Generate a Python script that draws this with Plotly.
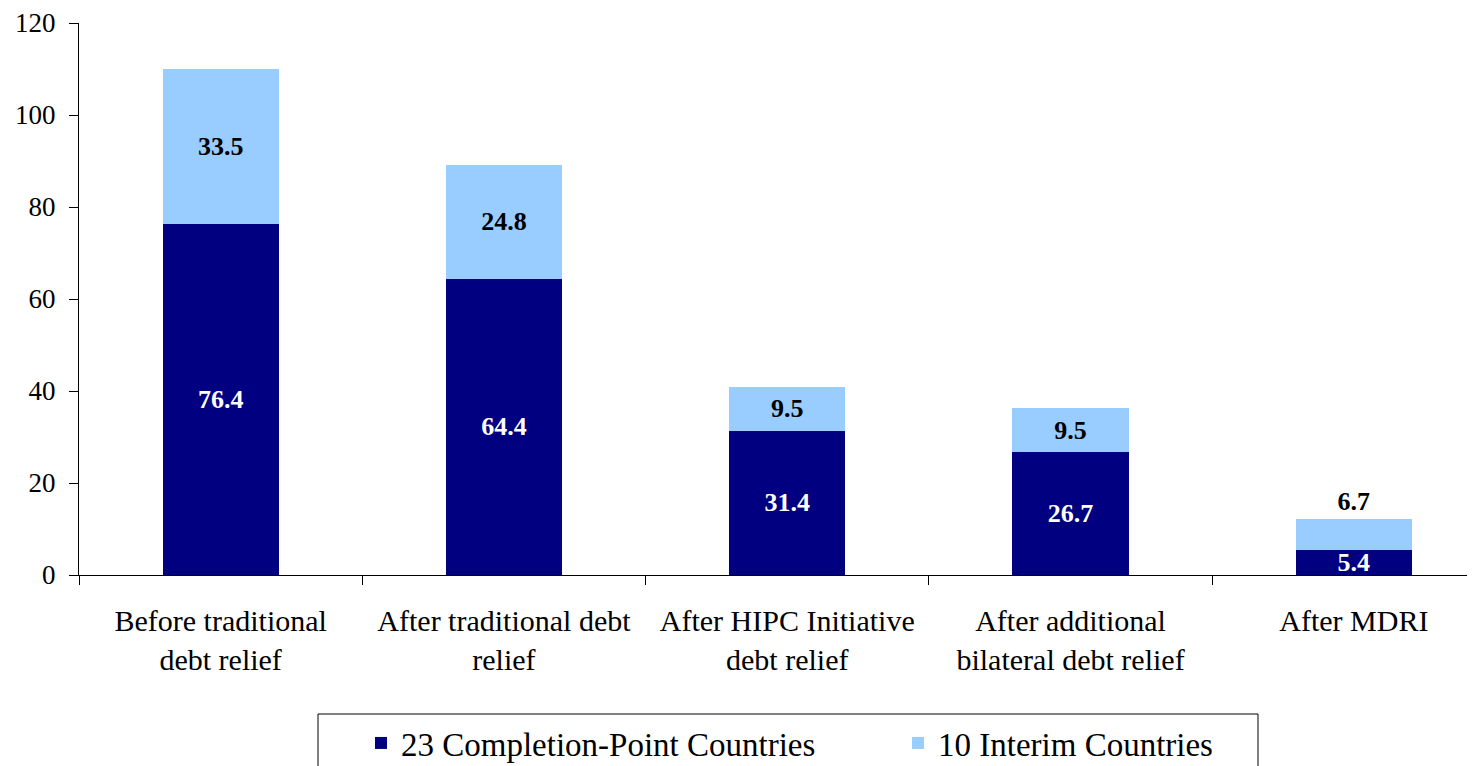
import plotly.graph_objects as go

categories = [
    "Before traditional<br>debt relief",
    "After traditional debt<br>relief",
    "After HIPC Initiative<br>debt relief",
    "After additional<br>bilateral debt relief",
    "After MDRI",
]
completion_name = "23 Completion-Point Countries"
interim_name = "10 Interim Countries"
completion_values = [76.4, 64.4, 31.4, 26.7, 5.4]
interim_values = [33.5, 24.8, 9.5, 9.5, 6.7]
y_ticks = [0, 20, 40, 60, 80, 100, 120]

FONT = "Liberation Serif, Times New Roman, serif"

W, H = 1475, 766
ML, MT, MB = 71, 15, 199          # page body adds an 8px offset
plot_w = W - ML
plot_h = H - MT - MB

fig = go.Figure()
fig.add_trace(go.Bar(
    x=categories, y=completion_values, name=completion_name,
    marker=dict(color="#000080", line=dict(width=0)),
    text=[f"{v:.1f}" for v in completion_values],
    textposition="inside", insidetextanchor="middle", constraintext="none",
    textfont=dict(family=FONT, size=26, color="white", weight="bold"),
    textangle=0,
))
interim_pos = ["inside"] * (len(interim_values) - 1) + ["outside"]
fig.add_trace(go.Bar(
    x=categories, y=interim_values, name=interim_name,
    marker=dict(color="#99CCFF", line=dict(width=0)),
    text=[f"{v:.1f}" for v in interim_values],
    textposition=interim_pos, insidetextanchor="middle", constraintext="none",
    textfont=dict(family=FONT, size=26, color="black", weight="bold"),
    outsidetextfont=dict(family=FONT, size=26, color="black", weight="bold"),
    textangle=0, cliponaxis=False,
))

# legend frame (figure pixels -> paper coords)
def px_x(v):
    return (v - ML) / plot_w

def px_y(v):
    return (H - MB - v) / plot_h

fig.add_shape(
    type="rect", xref="paper", yref="paper",
    x0=px_x(310), x1=px_x(1250), y0=px_y(706), y1=px_y(820),
    line=dict(color="black", width=1), fillcolor="rgba(0,0,0,0)",
    layer="above",
)

fig.update_layout(
    barmode="stack",
    bargap=0.59,
    width=W, height=H,
    margin=dict(l=ML, r=0, t=MT, b=MB, autoexpand=False),
    paper_bgcolor="white", plot_bgcolor="white",
    font=dict(family=FONT, color="black"),
    showlegend=True,
    legend=dict(
        orientation="h",
        traceorder="normal",
        xref="container", yref="container",
        x=353 / W, xanchor="left",
        y=1 - 707 / H, yanchor="top",
        borderwidth=0,
        bgcolor="rgba(0,0,0,0)",
        font=dict(family=FONT, size=33, color="black"),
        itemclick=False,
        entrywidth=492,
    ),
)
fig.update_xaxes(
    type="category",
    range=[-0.5, -0.5 + plot_w / 283.3],
    automargin=False,
    showline=True, linecolor="black", linewidth=1,
    ticks="outside", tickson="boundaries", ticklen=9, tickcolor="black",
    tickfont=dict(family=FONT, size=30, color="black"),
    ticklabelstandoff=19,
    showgrid=False, zeroline=False,
)
fig.update_yaxes(
    range=[0, 120], tickvals=y_ticks,
    automargin=False,
    showline=True, linecolor="black", linewidth=1,
    ticks="outside", ticklen=9, tickcolor="black",
    tickfont=dict(family=FONT, size=27, color="black"),
    ticklabelstandoff=8,
    showgrid=False, zeroline=False,
)

fig.write_html("out.html")
